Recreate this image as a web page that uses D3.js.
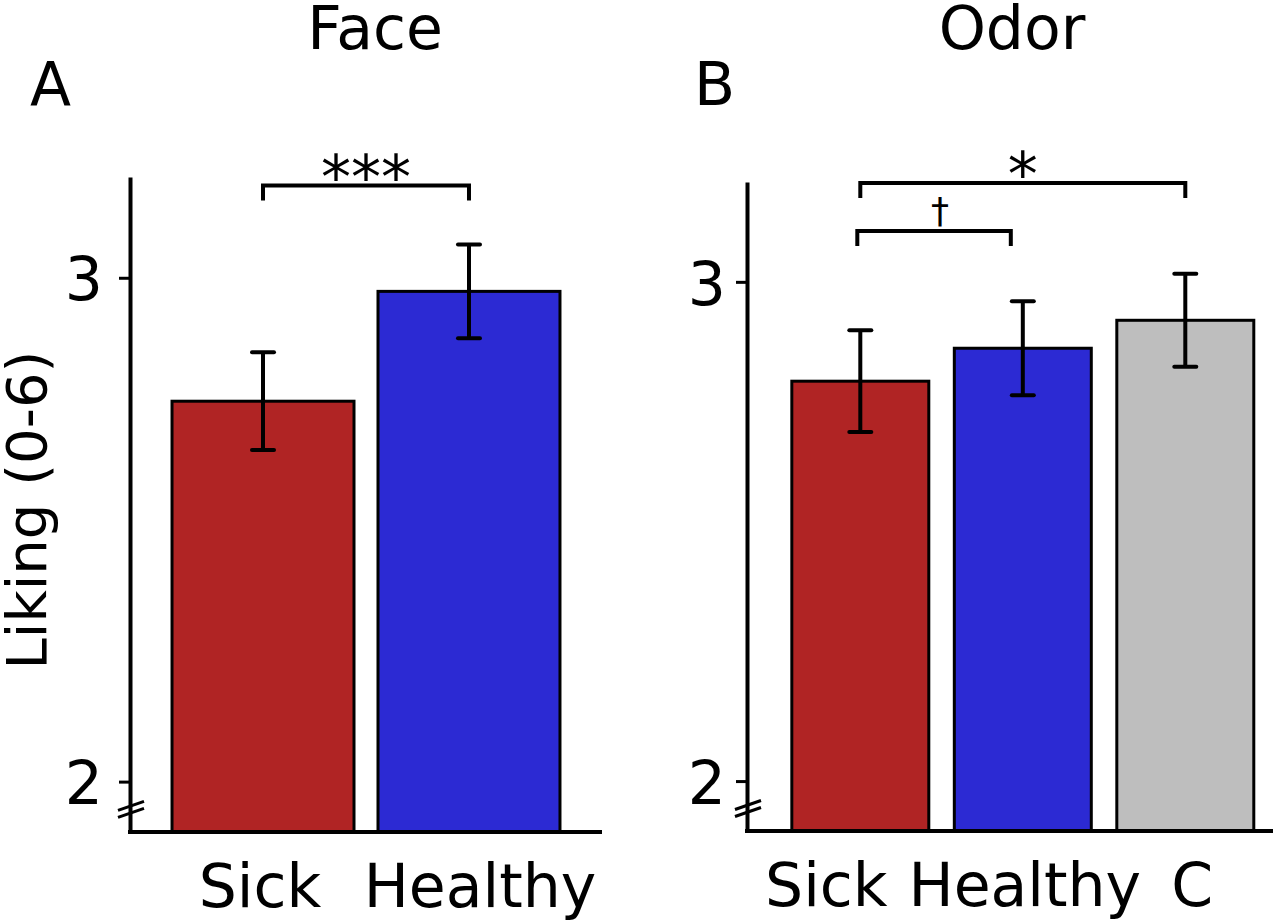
<!DOCTYPE html>
<html>
<head>
<meta charset="utf-8">
<script src="https://cdn.jsdelivr.net/npm/d3@7"></script>
<style>
  html, body { margin: 0; padding: 0; background: #fff; }
  svg { display: block; }
  text { font-family: "DejaVu Sans", sans-serif; fill: #000; }
</style>
</head>
<body>
<svg id="chart" width="1280" height="923"></svg>
<script>
// ---------- data ----------
const faceCategories = ["Sick", "Healthy"];
const faceMeans = [2.755, 2.973];
const faceSE = [0.097, 0.093];

const odorCategories = ["Sick", "Healthy", "C"];
const odorMeans = [2.801, 2.867, 2.923];
const odorSE = [0.102, 0.094, 0.093];

const yTickValues = [2, 3];
const yDomain = [1.9, 3.2];

const faceBrackets = [{ from: "Sick", to: "Healthy", y: 3.183, label: "***" }];
const odorBrackets = [
  { from: "Sick", to: "C", y: 3.198, label: "*" },
  { from: "Sick", to: "Healthy", y: 3.102, label: "\u2020" }
];

const barColors = { "Sick": "#B02424", "Healthy": "#2C2AD3", "C": "#BEBEBE" };

// ---------- layout ----------
const svg = d3.select("#chart");

function panel(cfg) {
  const g = svg.append("g");
  const x = d3.scaleBand()
    .domain(cfg.categories)
    .range([cfg.left, cfg.right])
    .paddingInner(cfg.padInner)
    .paddingOuter(cfg.padOuter)
    .align(cfg.align);
  const y = d3.scaleLinear().domain(yDomain).range([cfg.bottom, cfg.top]);

  // bars
  const data = cfg.categories.map((c, i) => ({ c, m: cfg.means[i], se: cfg.se[i] }));
  g.selectAll("rect.bar").data(data).enter().append("rect")
    .attr("class", "bar")
    .attr("x", d => x(d.c))
    .attr("width", x.bandwidth())
    .attr("y", d => y(d.m))
    .attr("height", d => y(yDomain[0]) - y(d.m))
    .attr("fill", d => barColors[d.c])
    .attr("stroke", "#000")
    .attr("stroke-width", 3);

  // error bars
  const eb = g.selectAll("g.err").data(data).enter().append("g").attr("class", "err");
  const cx = d => x(d.c) + x.bandwidth() / 2;
  eb.append("line")
    .attr("x1", cx).attr("x2", cx)
    .attr("y1", d => y(d.m + d.se)).attr("y2", d => y(d.m - d.se))
    .attr("stroke", "#000").attr("stroke-width", 4);
  [1, -1].forEach(s => {
    eb.append("line")
      .attr("x1", d => cx(d) - 11).attr("x2", d => cx(d) + 11)
      .attr("y1", d => y(d.m + s * d.se)).attr("y2", d => y(d.m + s * d.se))
      .attr("stroke", "#000").attr("stroke-width", 4).attr("stroke-linecap", "round");
  });

  // y axis
  const yAxis = d3.axisLeft(y).tickValues(yTickValues).tickFormat(d3.format("d"))
    .tickSize(11).tickSizeOuter(0).tickPadding(cfg.tickPad);
  const ya = g.append("g").attr("transform", `translate(${cfg.left},0)`).call(yAxis);
  ya.select(".domain").attr("stroke", "#000").attr("stroke-width", 4);
  ya.selectAll(".tick line").attr("stroke", "#000").attr("stroke-width", 3);
  ya.selectAll(".tick text").attr("font-size", 60).attr("dy", "0.37em")
    .attr("font-family", "DejaVu Sans").attr("fill", "#000");

  // x axis
  const xAxis = d3.axisBottom(x).tickSize(0).tickSizeOuter(0).tickPadding(0);
  const xa = g.append("g").attr("transform", `translate(0,${cfg.bottom})`).call(xAxis);
  xa.select(".domain").attr("stroke", "#000").attr("stroke-width", 4)
    .attr("d", `M${cfg.left - 2},0H${cfg.right}`);
  xa.selectAll(".tick text").attr("font-size", 60).attr("dy", 0)
    .attr("y", 75)
    .attr("dx", (d, i) => cfg.labelDx[i])
    .attr("font-family", "DejaVu Sans").attr("fill", "#000");

  // axis break marks
  const yb = y(1.945);
  [-3.5, 3.5].forEach(o => {
    g.append("line")
      .attr("x1", cfg.left - 12).attr("y1", yb + o + 4.5)
      .attr("x2", cfg.left + 14).attr("y2", yb + o - 4.5)
      .attr("stroke", "#000").attr("stroke-width", 3);
  });

  // significance brackets
  cfg.brackets.forEach(b => {
    const x1 = x(b.from) + x.bandwidth() / 2 + (b.dx1 || 0);
    const x2 = x(b.to) + x.bandwidth() / 2 + (b.dx2 || 0);
    const yy = y(b.y);
    g.append("path")
      .attr("d", `M${x1},${yy + 15}V${yy}H${x2}V${yy + 15}`)
      .attr("fill", "none").attr("stroke", "#000").attr("stroke-width", 4);
    g.append("text")
      .attr("x", (x1 + x2) / 2 + (b.labelDx || 0))
      .attr("y", b.label === "\u2020" ? yy - 8 : yy + 12)
      .attr("text-anchor", "middle")
      .attr("font-size", b.label === "\u2020" ? 36 : 60)
      .text(b.label);
  });

  // title and panel letter
  svg.append("text").attr("x", (cfg.left + cfg.right) / 2 + cfg.titleDx).attr("y", 49)
    .attr("text-anchor", "middle").attr("font-size", 60).text(cfg.title);
  svg.append("text").attr("x", cfg.letterX).attr("y", 105)
    .attr("font-size", 60).text(cfg.letter);
}

panel({
  categories: faceCategories, means: faceMeans, se: faceSE,
  left: 130, right: 602, top: 177, bottom: 832,
  padInner: 0.1165, padOuter: 0.204, align: 0.5,
  tickPad: 16, labelDx: [-3, 11],
  brackets: faceBrackets, title: "Face", titleDx: 9, letter: "A", letterX: 30
});

panel({
  categories: odorCategories, means: odorMeans, se: odorSE,
  left: 747, right: 1273, top: 182, bottom: 831,
  padInner: 0.157, padOuter: 0.197, align: 0.70,
  tickPad: 10, labelDx: [-34, 2, 7],
  brackets: odorBrackets.map((b, i) => i === 1 ? Object.assign({}, b, { dx1: -3, dx2: -12, labelDx: 6 }) : b),
  title: "Odor", titleDx: 2, letter: "B", letterX: 694
});

// y-axis title
svg.append("text")
  .attr("transform", "translate(46,510) rotate(-90)")
  .attr("text-anchor", "middle")
  .attr("font-size", 56)
  .text("Liking (0-6)");
</script>
</body>
</html>
